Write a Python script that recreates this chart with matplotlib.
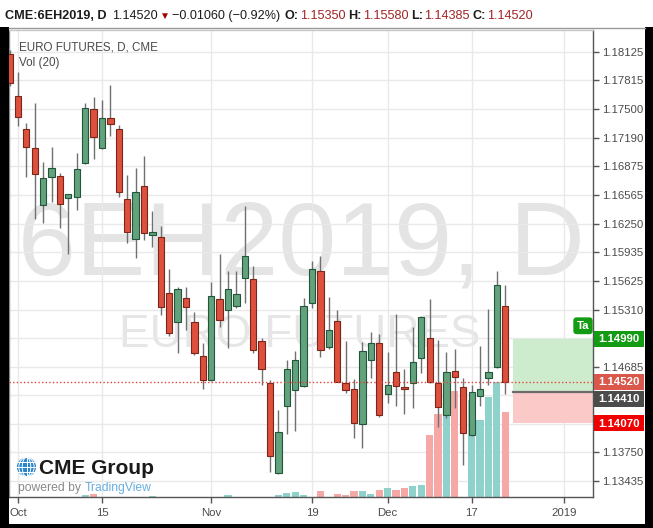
import numpy as np
import matplotlib
matplotlib.use('Agg')
import matplotlib.pyplot as plt
from matplotlib.patches import Rectangle, Circle, Ellipse
from matplotlib.transforms import blended_transform_factory as blend

plt.rcParams['font.family'] = ['Liberation Sans', 'DejaVu Sans']

# ---------------- data ----------------
symbol = 'CME:6EH2019, D'
title = 'EURO FUTURES, D, CME'
vol_label = 'Vol (20)'
watermark_main = '6EH2019, D'
watermark_sub = 'EURO FUTURES'

dates = ['2018-09-28',
         '2018-10-01', '2018-10-02', '2018-10-03', '2018-10-04', '2018-10-05',
         '2018-10-08', '2018-10-09', '2018-10-10', '2018-10-11', '2018-10-12',
         '2018-10-15', '2018-10-16', '2018-10-17', '2018-10-18', '2018-10-19',
         '2018-10-22', '2018-10-23', '2018-10-24', '2018-10-25', '2018-10-26',
         '2018-10-29', '2018-10-30', '2018-10-31', '2018-11-01', '2018-11-02',
         '2018-11-05', '2018-11-06', '2018-11-07', '2018-11-08', '2018-11-09',
         '2018-11-12', '2018-11-13', '2018-11-14', '2018-11-15', '2018-11-16',
         '2018-11-19', '2018-11-20', '2018-11-21', '2018-11-23',
         '2018-11-26', '2018-11-27', '2018-11-28', '2018-11-29', '2018-11-30',
         '2018-12-03', '2018-12-04', '2018-12-05', '2018-12-06', '2018-12-07',
         '2018-12-10', '2018-12-11', '2018-12-12', '2018-12-13', '2018-12-14',
         '2018-12-17', '2018-12-18', '2018-12-19', '2018-12-20', '2018-12-21']

opens = [1.18103,
         1.17644, 1.17280, 1.17072, 1.16452, 1.16762,
         1.16773, 1.16526, 1.16537, 1.16915, 1.17499,
         1.17072, 1.17400, 1.17280, 1.16515, 1.16077,
         1.16663, 1.16128, 1.16106, 1.15487, 1.15177,
         1.15433, 1.15170, 1.14805, 1.14539, 1.15422,
         1.15305, 1.15348, 1.15658, 1.15640, 1.14969,
         1.14503, 1.13519, 1.14255, 1.14430, 1.14474,
         1.15384, 1.15731, 1.14903, 1.15188,
         1.14510, 1.14441, 1.14055, 1.14758, 1.14947,
         1.14386, 1.14630, 1.14466, 1.14510, 1.14783,
         1.15002, 1.14510, 1.14153, 1.14641, 1.14466,
         1.13938, 1.14364, 1.14565, 1.14678, 1.15350]

highs = [1.18147,
         1.17910, 1.17346, 1.17571, 1.16926, 1.17083,
         1.16802, 1.16573, 1.17018, 1.17564, 1.17636,
         1.17600, 1.17764, 1.17327, 1.16780, 1.16860,
         1.16988, 1.16387, 1.16223, 1.15750, 1.15559,
         1.15559, 1.15286, 1.14941, 1.15607, 1.15917,
         1.15734, 1.15731, 1.16442, 1.15786, 1.14995,
         1.14539, 1.14211, 1.14758, 1.14860, 1.15439,
         1.15840, 1.15898, 1.15443, 1.15305,
         1.14969, 1.14550, 1.14958, 1.15067, 1.15039,
         1.14849, 1.15261, 1.14656, 1.15122, 1.15239,
         1.15422, 1.14977, 1.14849, 1.14875, 1.14558,
         1.14485, 1.14911, 1.15312, 1.15734, 1.15580]

lows = [1.17753,
        1.17316, 1.16755, 1.16296, 1.16256, 1.16489,
        1.16198, 1.15913, 1.16398, 1.16901, 1.16952,
        1.17065, 1.17207, 1.16543, 1.16040, 1.15873,
        1.16070, 1.15990, 1.15250, 1.15020, 1.14838,
        1.15086, 1.14813, 1.14438, 1.14528, 1.15122,
        1.14886, 1.15323, 1.15378, 1.14831, 1.14485,
        1.13530, 1.13512, 1.13946, 1.13982, 1.14463,
        1.15323, 1.14794, 1.14875, 1.14518,
        1.14394, 1.13902, 1.13793, 1.14558, 1.14138,
        1.14291, 1.14250, 1.14168, 1.14230, 1.14613,
        1.14510, 1.14029, 1.14121, 1.14230, 1.13610,
        1.13927, 1.14255, 1.14485, 1.14667, 1.14385]

closes = [1.17789,
          1.17411, 1.17090, 1.16791, 1.16744, 1.16854,
          1.16463, 1.16569, 1.16843, 1.17510, 1.17199,
          1.17400, 1.17335, 1.16598, 1.16161, 1.16598,
          1.16150, 1.16157, 1.15341, 1.15056, 1.15531,
          1.15341, 1.14831, 1.14539, 1.15454, 1.15195,
          1.15531, 1.15476, 1.15898, 1.14867, 1.14660,
          1.13709, 1.13974, 1.14660, 1.14758, 1.15352,
          1.15750, 1.14867, 1.15086, 1.14521,
          1.14430, 1.14073, 1.14860, 1.14947, 1.14157,
          1.14485, 1.14474, 1.14438, 1.14739, 1.15231,
          1.14521, 1.14247, 1.14630, 1.14575, 1.13957,
          1.14411, 1.14438, 1.14624, 1.15580, 1.14520]

volumes = [0,
           0, 0, 0, 0, 0,
           0, 0, 0, 5000, 7000,
           0, 0, 0, 0, 0,
           0, 3000, 0, 0, 0,
           0, 0, 0, 0, 0,
           4000, 0, 0, 0, 0,
           0, 4000, 7500, 10500, 4600,
           0, 12600, 0, 5400,
           3400, 12600, 12600, 5400, 14000,
           18600, 14000, 18600, 22600, 24600,
           124000, 166000, 170000, 212600, 0,
           194000, 154000, 200600, 230600, 169400]

price_ticks = [1.18125, 1.17815, 1.17500, 1.17190, 1.16875, 1.16565, 1.16250,
               1.15935, 1.15625, 1.15310, 1.14995, 1.14685, 1.14375, 1.14060,
               1.13750, 1.13435]
hidden_ticks = [1.14995, 1.14375, 1.14060]
time_tick_dates = ['2018-10-01', '2018-10-15', '2018-11-01', '2018-11-19',
                   '2018-12-03', '2018-12-17', '2019-01-01']
time_tick_labels = ['Oct', '15', 'Nov', '19', 'Dec', '17', '2019']

entry_price = 1.14410
target_price = 1.14990
stop_price = 1.14070
position_start = 59.9

# ---------------- helpers ----------------
W, H = 653, 528
opens = np.array(opens); highs = np.array(highs)
lows = np.array(lows); closes = np.array(closes); volumes = np.array(volumes)
dts = np.array(dates, dtype='datetime64[D]')
n = len(dts)


def date_index(d):
    d = np.datetime64(d)
    hit = np.where(dts == d)[0]
    if len(hit):
        return int(hit[0])
    return n - 1 + int(np.busday_count(dts[-1] + 1, d + 1))


tick_idx = [date_index(d) for d in time_tick_dates]

RED = '#dc503d'
RED_EDGE = '#7c2619'
GREEN = '#62a27c'
GREEN_EDGE = '#22563a'
VRED = '#f5a8a6'
VGREEN = '#8fd1cb'
GRID = '#e9e9e9'
TXT = '#4a4a4a'

fig = plt.figure(figsize=(W / 100, H / 100), dpi=100)
fig.patch.set_facecolor('white')
renderer = fig.canvas.get_renderer()

rect = [9 / W, 1 - 497 / H, 584 / W, 467 / H]
ax_v = fig.add_axes(rect)
ax = fig.add_axes(rect, facecolor='none')

xlim = (-0.07, 69.45)
ylim = (1.13260, 1.18366)
for a in (ax, ax_v):
    a.set_xlim(*xlim)
ax.set_ylim(*ylim)
ax_v.set_ylim(0, 934000)
ax_v.set_facecolor('white')
ax_v.set_xticks([]); ax_v.set_yticks([])
for s in ax_v.spines.values():
    s.set_visible(False)

# watermark
ax_v.text(301 / W, 1 - 275 / H, watermark_main, transform=fig.transFigure,
          ha='center', va='baseline', fontsize=75, color='#e4e4e4', zorder=0)
ax_v.text(300 / W, 1 - 347 / H, watermark_sub, transform=fig.transFigure,
          ha='center', va='baseline', fontsize=33, color='#e6e6e6', zorder=0)

# grid
trg = blend(ax_v.transAxes, ax.transData)
for p in price_ticks:
    ax_v.plot([0, 1], [p, p], transform=trg, color=GRID, lw=1, zorder=1)
for t in tick_idx:
    ax_v.axvline(t, color=GRID, lw=1, zorder=1)

# volume
x = np.arange(n)
up = closes >= opens
ax_v.bar(x, volumes, width=0.86, color=np.where(up, VGREEN, VRED), zorder=2)

# long position tool
ax.add_patch(Rectangle((position_start, entry_price), xlim[1] - position_start,
                       target_price - entry_price, fc='#cdeccd', ec='none', zorder=2))
ax.add_patch(Rectangle((position_start, stop_price), xlim[1] - position_start,
                       entry_price - stop_price, fc='#fcc9c9', ec='none', zorder=2))
ax.plot([position_start, xlim[1]], [entry_price, entry_price], color='#6b6b6b', lw=1.6, zorder=2.5)

# candles
ax.vlines(x, lows, highs, color='#707070', lw=1, zorder=3)
body_bottom = np.minimum(opens, closes)
body_h = np.maximum(np.abs(closes - opens), 0.00004)
ax.bar(x, body_h, bottom=body_bottom, width=0.74,
       color=np.where(up, GREEN, RED), edgecolor=np.where(up, GREEN_EDGE, RED_EDGE),
       linewidth=0.8, zorder=4)

# last price dotted line
ax.axhline(closes[-1], color='#e0453c', lw=1, ls=(0, (1, 1.6)), zorder=5)

# axes styling
ax.yaxis.tick_right()
ax.set_yticks(price_ticks)
ax.set_yticklabels(['' if p in hidden_ticks else f'{p:.5f}' for p in price_ticks])
ax.tick_params(axis='y', direction='out', length=4, width=1, color='#555555',
               pad=2.5, labelsize=8.2, labelcolor=TXT)
ax.set_xticks(tick_idx)
ax.set_xticklabels(time_tick_labels)
ax.tick_params(axis='x', direction='out', length=4, width=1, color='#555555',
               pad=4, labelsize=8.2, labelcolor=TXT)
ax.spines['left'].set_color('#8a8a8a')
ax.spines['top'].set_color('#c8c8c8')
ax.spines['right'].set_color('#555555')
ax.spines['bottom'].set_color('#555555')
for s in ax.spines.values():
    s.set_linewidth(1)

# price label boxes on the right scale
px_per_price = 467 / (ylim[1] - ylim[0])
box_h = 16 / px_per_price
trb = blend(ax.transAxes, ax.transData)
bx0 = (594 - 9) / 584
bw = 50 / 584


def price_box(center, value, color):
    ax.add_patch(Rectangle((bx0, center - box_h / 2), bw, box_h, transform=trb,
                           fc=color, ec='none', clip_on=False, zorder=10))
    ax.text(bx0 + bw / 2, center - 0.6 / px_per_price, f'{value:.5f}', transform=trb,
            ha='center', va='center', color='white', fontsize=8.2,
            fontweight='bold', clip_on=False, zorder=11)


price_box(target_price, target_price, '#139c13')
price_box(closes[-1], closes[-1], '#d9574b')
price_box(closes[-1] - box_h * 1.05, entry_price, '#4b4b4b')
price_box(stop_price, stop_price, '#f00000')

ax.text((583 - 9) / 584, target_price + 13 / px_per_price, 'Ta', transform=trb,
        ha='center', va='center', color='white', fontsize=8.2, fontweight='bold',
        bbox=dict(boxstyle='round,pad=0.3,rounding_size=0.3', fc='#139c13', ec='none'),
        clip_on=False, zorder=9)

# legend texts in pane
fig.text(19 / W, 1 - 47 / H, title, ha='left', va='center', fontsize=8.4, color='#4a4a4a')
fig.text(19 / W, 1 - 63 / H, vol_label, ha='left', va='center', fontsize=8.4, color='#4a4a4a')

# header: laid out piece by piece
HY = 1 - 16 / H
DARK = '#1c1c1c'
VALC = '#a32424'
chg = closes[-1] - closes[-2]
pct = chg / closes[-2] * 100
pieces = [
    (symbol, 'bold', DARK, 0),
    (f'{closes[-1]:.5f}', 'normal', DARK, 5),
    ('\u25bc', 'normal', '#a00000', 3),
    (f'{chg:.5f} ({pct:.2f}%)'.replace('-', '\u2212'), 'normal', DARK, 2),
    ('O:', 'bold', DARK, 4), (f'{opens[-1]:.5f}', 'normal', VALC, 1),
    ('H:', 'bold', DARK, 3), (f'{highs[-1]:.5f}', 'normal', VALC, 1),
    ('L:', 'bold', DARK, 3), (f'{lows[-1]:.5f}', 'normal', VALC, 1),
    ('C:', 'bold', DARK, 3), (f'{closes[-1]:.5f}', 'normal', VALC, 1),
]
base_fs = 9.0
widths = []
for txt, wt, col, gap in pieces:
    fs = base_fs * (0.8 if txt == '\u25bc' else 1.0)
    t = fig.text(0, 0, txt, fontsize=fs, fontweight=wt)
    widths.append(t.get_window_extent(renderer).width)
    t.remove()
target_span = 533 - 5
gaps = sum(p[3] for p in pieces)
scale = (target_span - gaps) / sum(widths)
fs_head = base_fs * scale
xpos = 5
for (txt, wt, col, gap), wdt in zip(pieces, widths):
    xpos += gap
    fs = fs_head * (0.8 if txt == '\u25bc' else 1.0)
    fig.text(xpos / W, HY, txt, ha='left', va='center', fontsize=fs, fontweight=wt, color=col)
    xpos += wdt * scale

# CME Group logo
gax = fig.add_axes([16 / W, 1 - 477.5 / H, 21 / W, 21 / H])
gax.set_xlim(-1.1, 1.1); gax.set_ylim(-1.1, 1.1); gax.set_aspect('equal'); gax.axis('off')
gax.add_patch(Circle((0, 0), 1, fc='#2b86c9', ec='none'))
for wdt in (0.9, 1.6):
    gax.add_patch(Ellipse((0, 0), wdt, 2, fill=False, ec='white', lw=0.7))
gax.plot([0, 0], [-1, 1], color='white', lw=0.7)
for yy in (-0.5, 0, 0.5):
    hw = np.sqrt(1 - yy ** 2)
    gax.plot([-hw, hw], [yy, yy], color='white', lw=0.7)
fig.text(39 / W, 1 - 468 / H, 'CME Group', ha='left', va='center', fontsize=15,
         fontweight='bold', color='#1a1a1a')
fig.text(18 / W, 1 - 488 / H, 'powered by', ha='left', va='center', fontsize=8.7, color='#8a8a8a')
fig.text(85 / W, 1 - 488 / H, 'TradingView', ha='left', va='center', fontsize=8.7, color='#6aaee0')

# frame of the screenshot
fig.add_artist(Rectangle((0, 0), 8.5 / W, 1 - 27 / H, transform=fig.transFigure,
                         fc='black', ec='none', zorder=20))
fig.add_artist(Rectangle((644.5 / W, 0), 8.5 / W, 1 - 27 / H, transform=fig.transFigure,
                         fc='black', ec='none', zorder=20))
fig.add_artist(Rectangle((0, 0), 1, 4.5 / H, transform=fig.transFigure,
                         fc='black', ec='none', zorder=20))
fig.add_artist(plt.Line2D([8.5 / W, 644.5 / W], [1 - 28 / H, 1 - 28 / H],
                          transform=fig.transFigure, color='#9a9a9a', lw=1, zorder=21))

fig.savefig('out.png', dpi=100)
